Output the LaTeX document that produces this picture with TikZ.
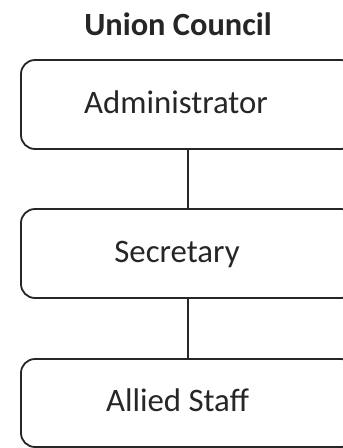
\documentclass[tikz,border=0pt]{standalone}
\usepackage{fontspec}
\setmainfont{Carlito}
\begin{document}
\begin{tikzpicture}[x=1pt,y=-1pt,
  orgbox/.style={draw=black!85, line width=1.8pt, rounded corners=14pt, minimum width=334pt, inner sep=0pt},
  lbl/.style={font=\fontsize{32.8}{38}\selectfont, text=black!85, inner sep=0pt},
  conn/.style={draw=black!85, line width=1.8pt}]
\useasboundingbox (0,0) rectangle (343,448);
\clip (0,0) rectangle (343,448);
\fill[white] (0,0) rectangle (343,448);
\node[font=\bfseries\fontsize{32.4}{38}\selectfont, text=black!85, anchor=base] (title) at (178,35) {Union Council};
\node[orgbox, minimum height=89pt] (b1) at (188,104.5) {};
\node[orgbox, minimum height=89pt] (b2) at (188,253.5) {};
\node[orgbox, minimum height=88pt] (b3) at (188,403) {};
\node[lbl, anchor=base] (t1) at (176,113) {Administrator};
\node[lbl, anchor=base] (t2) at (177,262) {Secretary};
\node[lbl, anchor=base] (t3) at (177.5,411) {Allied Staff};
\draw[conn] (b1.south) -- (b2.north);
\draw[conn] (b2.south) -- (b3.north);
\end{tikzpicture}
\end{document}
